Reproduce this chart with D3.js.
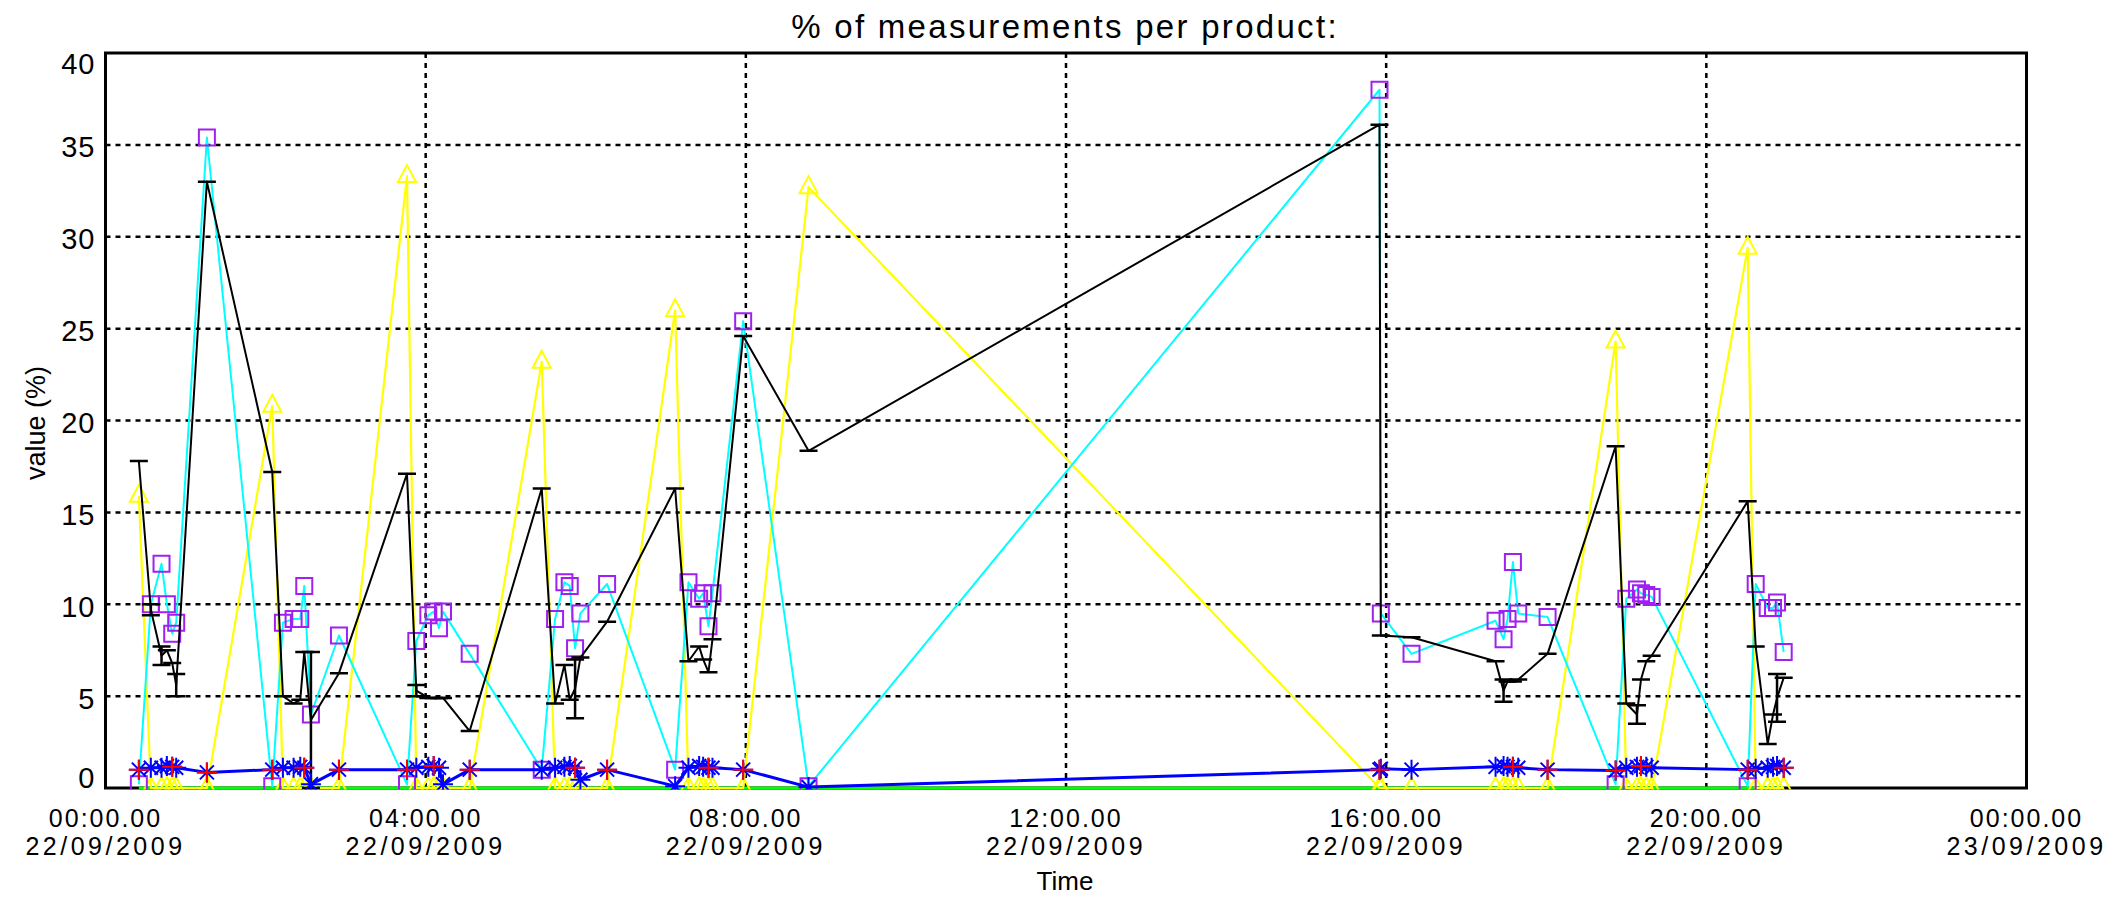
<!DOCTYPE html>
<html>
<head>
<meta charset="utf-8">
<script src="https://cdn.jsdelivr.net/npm/d3@7/dist/d3.min.js"></script>
<style>
  body { margin: 0; background: #fff; }
  text { font-family: "Liberation Sans", Arial, sans-serif; fill: #000; }
</style>
</head>
<body>
<svg id="chart"></svg>
<script>
// measurement times on 22/09/2009 (HH:MM)
let times = [
  '00:25', '00:34', '00:42', '00:46', '00:50', '00:53', '01:16',
  '02:05', '02:13', '02:21', '02:26', '02:29', '02:34', '02:55',
  '03:46', '03:53', '04:02', '04:06', '04:10', '04:13', '04:33',
  '05:27', '05:37', '05:44', '05:48', '05:52', '05:56', '06:16',
  '07:07', '07:17', '07:25', '07:28', '07:32', '07:35', '07:58',
  '08:47', '15:55', '15:56', '16:19',
  '17:22', '17:28', '17:31', '17:35', '17:39', '18:01',
  '18:52', '19:00', '19:08', '19:11', '19:15', '19:19',
  '20:31', '20:37', '20:46', '20:50', '20:53', '20:58'
];

// % per product, one array per product
let yellowVals = [
  15.9, 0, 0, 0, 0, 0, 0,
  20.8, 0, 0, 0, 0, 0, 0,
  33.3, 0, 0, 0, 0, 0, 0,
  23.2, 0, 0, 0, 0, 0, 0,
  26.0, 0, 0, 0, 0, 0, 0,
  32.7, 0, 0, 0,
  0, 0, 0, 0, 0, 0,
  24.3, 0, 0, 0, 0, 0,
  29.4, 0, 0, 0, 0, 0
];

let blackVals = [
  17.8, 9.7, 7.2, 7.5, 6.8, 5.6, 33.0,
  17.2, 5.0, 4.6, 4.8, 7.4, 3.7, 6.25,
  17.1, 5.3, 4.9, 4.9, 4.9, 4.9, 3.1,
  16.3, 4.6, 6.7, 4.8, 5.4, 7.1, 9.05,
  16.3, 6.9, 7.7, 7.0, 6.3, 8.1, 24.6,
  18.35, 36.1, 8.3, 8.2,
  6.9, 5.3, 5.8, 5.8, 5.9, 7.3,
  18.6, 4.6, 4.0, 5.9, 6.9, 7.2,
  15.6, 7.7, 2.4, 4.0, 4.9, 6.0
];

// half length of the black error bars
let blackErr = [
  0, 0.3, 0.5, 0, 0, 0.6, 0,
  0, 0, 0, 0, 0, 3.7, 0,
  0, 0.3, 0, 0, 0, 0, 0,
  0, 0, 0, 0, 1.6, 0, 0,
  0, 0, 0, 0, 0, 0, 0,
  0, 0, 0, 0,
  0, 0.6, 0, 0, 0, 0,
  0, 0, 0.5, 0, 0, 0,
  0, 0, 0, 0, 1.3, 0
];

let cyanVals = [
  0.2, 10.0, 12.2, 10.0, 8.4, 9.0, 35.4,
  0.1, 9.0, 9.2, 9.2, 11.0, 4.0, 8.3,
  0.2, 8.0, 9.4, 9.6, 8.7, 9.6, 7.3,
  1.0, 9.2, 11.2, 11.0, 7.6, 9.5, 11.1,
  1.0, 11.2, 10.3, 10.6, 8.8, 10.6, 25.4,
  0.1, 38.0, 9.5, 7.3,
  9.1, 8.1, 9.2, 12.3, 9.5, 9.3,
  0.2, 10.3, 10.8, 10.6, 10.5, 10.4,
  0.1, 11.1, 9.8, 9.8, 10.1, 7.4
];

let blueVals = [
  1.0, 1.1, 1.1, 1.2, 1.15, 1.1, 0.85,
  1.0, 1.1, 1.1, 1.15, 1.1, 0.2, 1.0,
  1.0, 1.1, 1.15, 1.2, 1.1, 0.2, 1.0,
  1.0, 1.1, 1.15, 1.2, 1.1, 0.45, 1.0,
  0.1, 1.1, 1.2, 1.15, 1.1, 1.1, 1.0,
  0.05, 1.0, 1.05, 1.0,
  1.15, 1.2, 1.15, 1.15, 1.1, 1.0,
  0.95, 1.1, 1.15, 1.2, 1.15, 1.1,
  1.0, 1.05, 1.1, 1.15, 1.2, 1.1
];

let redVals = [
  1.0, null, null, null, 1.15, null, 0.85,
  1.0, null, null, null, 1.1, null, 1.0,
  1.0, null, null, 1.2, null, null, 1.0,
  null, null, null, null, 1.1, null, 1.0,
  null, null, null, null, 1.1, null, 1.0,
  null, 1.0, null, null,
  null, null, null, 1.15, null, 1.0,
  0.95, null, null, 1.2, null, null,
  1.0, null, null, null, null, 1.1
];

let greenVals = times.map(() => 0);

let yTicks = [0, 5, 10, 15, 20, 25, 30, 35, 40];
let xTickHours = [0, 4, 8, 12, 16, 20, 24];

// configuration of svg/plot area
let config = { 'svg': {}, 'plot': {} };
config.svg.width = 2128;
config.svg.height = 899;
config.plot.x = 105.5;
config.plot.y = 53;
config.plot.width = 2026.5 - config.plot.x;
config.plot.height = 788 - config.plot.y;

let svg = d3.select('svg#chart');
svg.attr('width', config.svg.width);
svg.attr('height', config.svg.height);

let parseTime = d3.timeParse('%d/%m/%Y %H:%M');
let day0 = parseTime('22/09/2009 00:00');

let scale = {};
scale.x = d3.scaleTime()
  .domain([day0, d3.timeDay.offset(day0, 1)])
  .range([0, config.plot.width]);
scale.y = d3.scaleLinear()
  .domain([0, 40])
  .range([config.plot.height, 0]);

let plot = svg.append('g').attr('transform', translate(config.plot.x, config.plot.y));

// clip a bit below the axis so the zero lines stay whole
plot.append('clipPath').attr('id', 'clip')
  .append('rect')
  .attr('width', config.plot.width)
  .attr('height', config.plot.height + 1.5);

// dotted grid
let xTickDates = xTickHours.map(h => d3.timeHour.offset(day0, h));

let grid = plot.append('g').attr('class', 'grid');
grid.selectAll('line.h')
  .data(yTicks.slice(1, -1))
  .enter().append('line')
  .attr('x1', 0).attr('x2', config.plot.width)
  .attr('y1', d => scale.y(d)).attr('y2', d => scale.y(d));
grid.selectAll('line.v')
  .data(xTickDates.slice(1, -1))
  .enter().append('line')
  .attr('x1', d => scale.x(d)).attr('x2', d => scale.x(d))
  .attr('y1', 0).attr('y2', config.plot.height);
grid.selectAll('line')
  .attr('stroke', '#000')
  .attr('stroke-width', 2.5)
  .attr('stroke-dasharray', '5,5');

// frame (drawn before the data, like the original plot)
plot.append('rect')
  .attr('width', config.plot.width)
  .attr('height', config.plot.height)
  .attr('fill', 'none')
  .attr('stroke', '#000')
  .attr('stroke-width', 3);

// data rows
let data = times.map((t, i) => ({
  date: parseTime('22/09/2009 ' + t),
  yellow: yellowVals[i],
  black: blackVals[i],
  err: blackErr[i],
  cyan: cyanVals[i],
  blue: blueVals[i],
  red: redVals[i],
  green: greenVals[i]
}));

let layer = plot.append('g').attr('clip-path', 'url(#clip)');

function lineFor(key) {
  return d3.line()
    .defined(d => d[key] != null)
    .x(d => scale.x(d.date))
    .y(d => scale.y(d[key]));
}

function drawLine(key, color, width) {
  layer.append('path')
    .datum(data)
    .attr('fill', 'none')
    .attr('stroke', color)
    .attr('stroke-width', width)
    .attr('stroke-linejoin', 'round')
    .attr('d', lineFor(key));
}

function drawMarks(key, shape, color) {
  layer.append('g')
    .selectAll('path')
    .data(data.filter(d => d[key] != null))
    .enter().append('path')
    .attr('transform', d => translate(scale.x(d.date), scale.y(d[key])))
    .attr('d', shape)
    .attr('fill', 'none')
    .attr('stroke', color)
    .attr('stroke-width', 2);
}

let triangle = 'M0,-11L9,6L-9,6Z';
let square = 'M-8,-8H8V8H-8Z';
let asterisk = 'M-10,0H10M0,-10V10M-7,-7L7,7M-7,7L7,-7';
let plus = 'M-10,0H10M0,-10V10';

// green
drawLine('green', '#00ff00', 3);

// yellow
drawLine('yellow', '#ffff00', 2.2);
drawMarks('yellow', triangle, '#ffff00');

// cyan with purple squares
drawLine('cyan', '#00ffff', 2);
drawMarks('cyan', square, '#a020f0');

// black with error bars
drawLine('black', '#000', 2);
layer.append('g')
  .selectAll('path')
  .data(data)
  .enter().append('path')
  .attr('d', function(d) {
    let x = scale.x(d.date);
    let y0 = scale.y(d.black - d.err);
    let y1 = scale.y(d.black + d.err);
    return 'M' + x + ',' + y0 + 'V' + y1 +
      'M' + (x - 9) + ',' + y0 + 'H' + (x + 9) +
      'M' + (x - 9) + ',' + y1 + 'H' + (x + 9);
  })
  .attr('fill', 'none')
  .attr('stroke', '#000')
  .attr('stroke-width', 2.5);

// blue with asterisks
drawLine('blue', '#0000ff', 3);
drawMarks('blue', asterisk, '#0000ff');

// red plus signs
drawMarks('red', plus, '#ff0000');

// y tick labels, kept inside the axis range at both ends
let ylab = plot.append('g').attr('class', 'y-labels');
ylab.selectAll('text')
  .data(yTicks)
  .enter().append('text')
  .attr('x', -10)
  .attr('y', function(d) {
    let y = scale.y(d) + 2;
    y = Math.max(10.5, Math.min(config.plot.height - 10.5, y));
    return y + 10.5;
  })
  .attr('text-anchor', 'end')
  .style('font-size', '29px')
  .style('letter-spacing', '1px')
  .text(d => d);

// x tick labels: time line and date line
let fmtTime = d3.timeFormat('%H:%M.%S');
let fmtDate = d3.timeFormat('%d/%m/%Y');
let xlab = plot.append('g').attr('class', 'x-labels');
xlab.selectAll('text.time')
  .data(xTickDates)
  .enter().append('text')
  .attr('class', 'time')
  .attr('x', d => scale.x(d))
  .attr('y', config.plot.height + 39)
  .attr('text-anchor', 'middle')
  .style('font-size', '25px')
  .style('letter-spacing', '2px')
  .text(d => fmtTime(d).replace(/(\d\d)$/, '00'));
xlab.selectAll('text.date')
  .data(xTickDates)
  .enter().append('text')
  .attr('class', 'date')
  .attr('x', d => scale.x(d))
  .attr('y', config.plot.height + 67)
  .attr('text-anchor', 'middle')
  .style('font-size', '25px')
  .style('letter-spacing', '3.5px')
  .text(d => fmtDate(d));

// titles
svg.append('text')
  .attr('x', 1065)
  .attr('y', 38)
  .attr('text-anchor', 'middle')
  .style('font-size', '33px')
  .style('letter-spacing', '2.3px')
  .text('% of measurements per product:');

svg.append('text')
  .attr('x', 1065)
  .attr('y', 890)
  .attr('text-anchor', 'middle')
  .style('font-size', '26px')
  .text('Time');

svg.append('text')
  .attr('transform', 'translate(45,423) rotate(-90)')
  .attr('text-anchor', 'middle')
  .style('font-size', '27px')
  .text('value (%)');

// helper method to make translating easier
function translate(x, y) {
  return 'translate(' + x + ',' + y + ')';
}
</script>
</body>
</html>
